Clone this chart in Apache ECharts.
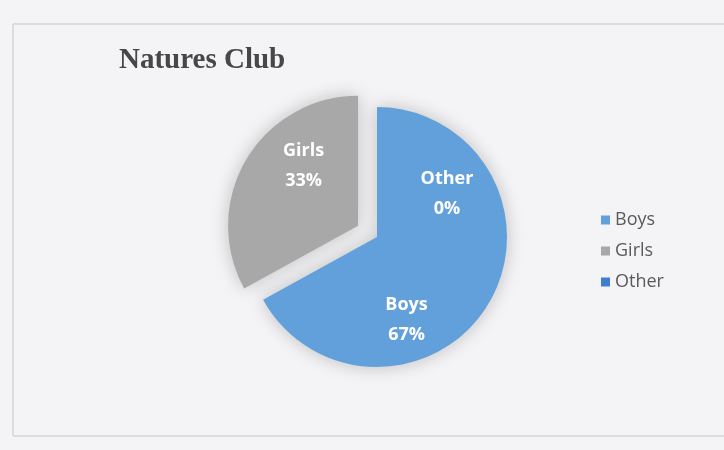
<!DOCTYPE html>
<html>
<head>
<meta charset="utf-8">
<script src="https://cdn.jsdelivr.net/npm/echarts@6/dist/echarts.min.js"></script>
<style>
    html, body { margin: 0; padding: 0; background: #f4f4f6; }
    #chart { width: 724px; height: 450px; }
</style>
</head>
<body>
<div id="chart"></div>
<script>
    // data
    var categories = ['Boys', 'Girls', 'Other'];
    var values = [67, 33, 0];
    var colors = ['#62a0dc', '#a8a8a8', '#3f7ecf'];
    var explodedName = 'Girls';

    // label nudges (Excel places labels off the mid-radius)
    var labelShift = {
        Boys: [-29, 48],
        Girls: [4, -25],
        Other: [70, 25]
    };

    var chart = echarts.init(document.getElementById('chart'));

    var pieData = categories.map(function (name, i) {
        return {
            name: name,
            value: values[i],
            selected: name === explodedName,
            itemStyle: { color: colors[i] },
            select: { itemStyle: { color: colors[i] } }
        };
    });

    chart.setOption({
        backgroundColor: '#f4f4f6',
        animation: false,
        title: {
            text: 'Natures Club',
            left: 114,
            top: 41,
            textStyle: {
                fontFamily: 'Liberation Serif',
                fontSize: 29,
                fontWeight: 'bold',
                color: '#474747'
            }
        },
        // chart frame
        graphic: [{
            type: 'rect',
            shape: { x: 13, y: 24, width: 730, height: 412 },
            style: { fill: 'none', stroke: '#c6c6c8', lineWidth: 1 },
            silent: true
        }],
        legend: {
            orient: 'vertical',
            left: 596,
            top: 206,
            icon: 'rect',
            itemWidth: 9,
            itemHeight: 9,
            itemGap: 13,
            data: categories,
            textStyle: {
                fontFamily: 'Open Sans',
                fontSize: 18,
                color: '#5a5a5a'
            }
        },
        series: [{
            type: 'pie',
            center: [377, 237],
            radius: 130,
            startAngle: 90,
            clockwise: true,
            selectedMode: 'single',
            selectedOffset: 22,
            percentPrecision: 0,
            data: pieData,
            itemStyle: {
                shadowBlur: 18,
                shadowColor: 'rgba(0,0,0,0.22)'
            },
            label: {
                show: true,
                position: 'inside',
                formatter: '{b}\n{d}%',
                fontFamily: 'Open Sans',
                fontWeight: 'bold',
                fontSize: 18,
                lineHeight: 30,
                color: '#ffffff'
            },
            labelLine: { show: false },
            labelLayout: function (params) {
                var s = labelShift[categories[params.dataIndex]];
                return { dx: s[0], dy: s[1] };
            },
            emphasis: { disabled: true }
        }]
    });
</script>
</body>
</html>
